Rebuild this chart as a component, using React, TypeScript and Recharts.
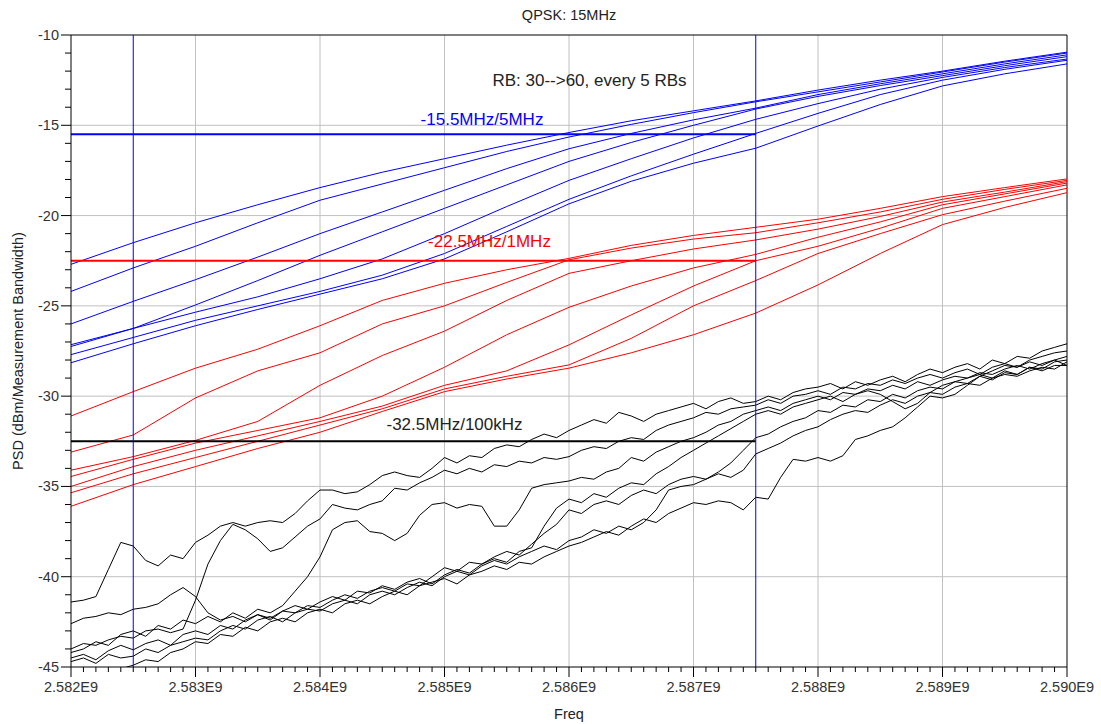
import { LineChart, Line, XAxis, YAxis, CartesianGrid, ReferenceLine } from "recharts"

const FONT = "'Liberation Sans', Arial, sans-serif"

// frequency sweep (Hz): coarse for the 5MHz / 1MHz curves, fine for the 100kHz ones
const F0 = 2582000000
const coarseFreq = Array.from({ length: 17 }, (_, i) => F0 + i * 500000)
const fineFreq = Array.from({ length: 81 }, (_, i) => F0 + i * 100000)

// -15.5MHz / 5MHz measurement, RB 30..60
const blue1 = [-22.7, -21.5, -20.4, -19.4, -18.45, -17.6, -16.85, -16.1, -15.4, -14.75, -14.2, -13.65, -13.05, -12.5, -12.0, -11.45, -10.95]
const blue2 = [-24.2, -22.9, -21.7, -20.4, -19.15, -18.25, -17.35, -16.45, -15.65, -14.95, -14.3, -13.7, -13.15, -12.6, -12.05, -11.5, -11.0]
const blue3 = [-26.0, -24.75, -23.55, -22.3, -21.0, -19.8, -18.6, -17.4, -16.3, -15.45, -14.7, -14.05, -13.3, -12.7, -12.15, -11.6, -11.1]
const blue4 = [-27.15, -26.25, -24.95, -23.6, -22.2, -20.9, -19.6, -18.3, -17.0, -15.95, -15.0, -14.1, -13.4, -12.8, -12.25, -11.7, -11.2]
const blue5 = [-27.25, -26.25, -25.35, -24.5, -23.5, -22.4, -21.0, -19.5, -18.05, -16.85, -15.7, -14.67, -13.8, -13.0, -12.35, -11.8, -11.33]
const blue6 = [-27.7, -26.75, -25.8, -25.0, -24.2, -23.3, -22.1, -20.6, -19.1, -17.8, -16.6, -15.45, -14.34, -13.3, -12.5, -11.9, -11.4]
const blue7 = [-28.15, -27.1, -26.1, -25.2, -24.35, -23.5, -22.4, -20.9, -19.35, -18.1, -17.1, -16.27, -15.04, -13.85, -12.82, -12.15, -11.6]

// -22.5MHz / 1MHz measurement
const red1 = [-31.1, -29.75, -28.45, -27.4, -26.1, -24.7, -23.75, -23.0, -22.37, -21.65, -21.1, -20.65, -20.2, -19.6, -18.95, -18.45, -17.97]
const red2 = [-33.1, -32.15, -30.1, -28.6, -27.6, -26.0, -25.0, -23.7, -22.45, -21.8, -21.3, -20.95, -20.4, -19.8, -19.1, -18.55, -18.05]
const red3 = [-34.1, -33.35, -32.45, -31.4, -29.4, -27.75, -26.4, -24.7, -23.2, -22.5, -21.85, -21.35, -20.75, -20.05, -19.25, -18.7, -18.12]
const red4 = [-34.45, -33.5, -32.6, -31.9, -31.2, -30.0, -28.4, -26.6, -25.08, -23.9, -22.9, -22.15, -21.2, -20.35, -19.4, -18.8, -18.2]
const red5 = [-35.0, -33.9, -33.0, -32.2, -31.4, -30.55, -29.4, -28.6, -27.16, -25.5, -23.9, -22.5, -21.7, -20.7, -19.6, -18.95, -18.3]
const red6 = [-35.35, -34.3, -33.4, -32.5, -31.6, -30.7, -29.6, -28.9, -28.27, -26.8, -25.0, -23.6, -22.1, -21.0, -19.95, -19.2, -18.49]
const red7 = [-36.1, -34.9, -33.9, -32.9, -32.0, -30.85, -29.75, -29.05, -28.45, -27.6, -26.6, -25.4, -23.84, -22.1, -20.5, -19.55, -18.73]

// -32.5MHz / 100kHz measurement (noisy)
const black1 = [
  -41.4, -41.3, -41.1, -39.6, -38.1, -38.3, -39.1, -39.4, -38.8, -39.0,
  -38.1, -37.7, -37.2, -37.0, -37.2, -37.0, -36.9, -37.0, -36.5, -35.8,
  -35.2, -35.2, -35.4, -35.3, -34.9, -34.4, -34.2, -34.4, -34.5, -34.0,
  -33.4, -33.7, -33.3, -33.4, -32.9, -32.7, -32.8, -32.4, -32.1, -32.3,
  -31.9, -31.6, -31.3, -31.5, -30.9, -31.1, -31.4, -31.0, -30.8, -30.6,
  -30.4, -30.7, -30.3, -30.1, -30.4, -30.3, -30.0, -30.2, -29.8, -29.6,
  -29.5, -29.3, -29.6, -29.2, -29.4, -29.1, -28.9, -29.2, -28.8, -28.5,
  -28.7, -28.4, -28.2, -28.5, -28.0, -28.2, -27.8, -27.9, -27.5, -27.3,
  -27.1,
]
const black2 = [
  -42.6, -42.3, -42.2, -42.0, -42.1, -41.8, -41.7, -41.5, -41.0, -40.6,
  -41.1, -42.0, -42.4, -42.2, -42.5, -42.1, -42.3, -41.9, -42.0, -41.6,
  -41.7, -41.3, -41.0, -41.2, -40.8, -40.6, -40.8, -40.4, -40.5, -40.0,
  -39.5, -39.7, -39.2, -39.3, -38.9, -38.6, -38.8, -38.2, -37.6, -37.1,
  -36.3, -36.5, -36.0, -35.8, -36.0, -35.5, -35.2, -35.4, -34.9, -34.6,
  -34.45, -34.6, -34.2, -33.7, -33.0, -32.3, -32.1, -31.7, -31.4, -31.2,
  -30.8, -30.9, -30.5, -30.6, -30.2, -30.3, -29.9, -30.1, -29.7, -29.5,
  -29.6, -29.2, -29.3, -28.9, -29.1, -28.7, -28.8, -28.4, -28.6, -28.3,
  -28.3,
]
const black3 = [
  -44.0, -43.7, -43.8, -43.5, -43.3, -43.4, -43.0, -42.9, -43.1, -42.9,
  -41.3, -39.3, -38.0, -37.1, -37.4, -37.9, -38.6, -38.4, -37.8, -37.2,
  -36.8, -36.0, -36.2, -36.3, -36.0, -35.8, -35.1, -35.2, -34.8, -34.5,
  -34.1, -34.3, -34.0, -34.2, -33.8, -33.9, -33.6, -33.7, -33.4, -33.5,
  -33.35, -33.0, -32.8, -32.9, -32.5, -32.3, -32.4, -31.9, -31.6, -31.4,
  -31.2, -30.9, -31.0, -30.7, -30.6, -30.5, -30.2, -30.4, -30.0, -29.9,
  -29.7, -29.9, -29.5, -29.6, -29.3, -29.4, -29.1, -29.3, -29.0, -28.8,
  -29.0, -28.7, -28.5, -28.8, -28.4, -28.2, -28.4, -28.0, -27.8, -27.6,
  -27.5,
]
const black4 = [
  -44.2, -44.0, -43.6, -43.8, -43.2, -43.0, -43.3, -42.7, -42.9, -42.4,
  -42.6, -42.2, -42.5, -42.0, -42.3, -41.8, -42.0, -41.6, -40.8, -40.0,
  -38.9, -37.4, -37.0, -36.9, -37.5, -37.6, -38.0, -37.6, -36.6, -36.0,
  -35.9, -36.2, -36.0, -36.1, -37.2, -37.2, -36.3, -35.1, -34.9, -34.8,
  -34.7, -34.5, -34.6, -34.2, -34.0, -33.4, -33.6, -33.1, -32.8, -32.5,
  -32.3, -32.0, -31.6, -31.4, -31.0, -30.8, -30.6, -30.8, -30.4, -30.2,
  -30.0, -30.2, -29.8, -29.9, -29.6, -29.7, -29.4, -29.6, -29.2, -29.4,
  -29.1, -28.9, -29.0, -28.7, -28.8, -28.5, -28.3, -28.5, -28.2, -28.0,
  -27.8,
]
const black5 = [
  -44.5, -44.3, -44.6, -44.1, -43.8, -44.05, -43.7, -43.5, -43.8, -43.2,
  -43.0, -43.2, -42.7, -42.9, -42.4, -42.1, -42.4, -41.9, -41.6, -41.8,
  -41.4, -41.1, -41.3, -40.8, -40.9, -40.5, -40.7, -40.3, -40.1, -40.4,
  -39.9, -39.6, -39.8, -39.3, -39.0, -39.2, -38.6, -38.4, -37.2, -36.2,
  -35.7, -35.9, -35.4, -35.6, -35.1, -34.8, -34.9, -34.3, -33.9, -33.4,
  -33.0, -32.6, -32.2, -31.8, -31.4, -31.0, -30.8, -31.0, -30.6, -30.4,
  -30.2, -30.0, -30.3, -29.9, -29.7, -29.9, -30.3, -30.7, -30.4, -29.8,
  -29.4, -29.2, -29.0, -28.8, -29.0, -28.6, -28.8, -28.4, -28.5, -28.1,
  -28.0,
]
const black6 = [
  -44.7, -44.5, -44.8, -44.3, -44.5, -44.4, -44.0, -44.2, -43.8, -43.6,
  -43.4, -43.5, -43.0, -42.7, -42.9, -42.4, -42.2, -42.5, -42.0, -41.8,
  -41.9, -41.5, -41.3, -41.5, -41.0, -40.8, -41.0, -40.6, -40.3, -40.5,
  -40.0, -39.7, -39.9, -39.4, -39.1, -39.3, -38.9, -38.6, -38.3, -38.5,
  -38.0, -37.8, -37.4, -37.6, -37.2, -37.4, -37.0, -36.3, -35.2, -35.0,
  -34.9, -34.6, -34.3, -34.5, -34.1, -33.2, -32.9, -32.6, -32.2, -31.9,
  -31.7, -31.3, -31.0, -30.8, -30.9, -30.5, -30.2, -30.4, -30.0, -29.8,
  -29.9, -29.5, -29.3, -29.4, -29.0, -28.8, -28.9, -28.6, -28.4, -28.5,
  -28.1,
]
const black7 = [
  -46.0, -45.8, -45.5, -45.6, -45.1, -44.9, -44.6, -44.7, -44.2, -44.0,
  -43.6, -43.7, -43.2, -43.3, -42.8, -43.0, -42.5, -42.3, -42.5, -42.0,
  -41.8, -42.0, -41.5, -41.3, -41.5, -41.1, -40.8, -41.0, -40.5, -40.3,
  -40.1, -40.4, -39.9, -39.7, -39.4, -39.6, -39.2, -39.3, -38.9, -38.6,
  -38.3, -38.1, -37.8, -37.5, -37.7, -37.2, -36.8, -37.0, -36.5, -36.2,
  -35.9, -36.0, -35.8, -35.9, -36.3, -35.6, -35.7, -34.5, -33.5, -33.6,
  -33.4, -33.6, -33.3, -32.4, -32.2, -31.9, -31.7, -31.2, -30.6, -30.0,
  -30.1, -29.9, -29.4, -28.9, -28.6, -28.3, -28.4, -28.1, -28.3, -28.0,
  -28.3,
]

// limit markers
const markerStart = 2582000000
const markerEnd = 2587500000
const markerLeft = 2582500000
const limitBlue = -15.5
const limitRed = -22.5
const limitBlack = -32.5

// axes
const xDomain = [2582000000, 2590000000]
const yDomain = [-45, -10]
const xMajor = [2582000000, 2583000000, 2584000000, 2585000000, 2586000000, 2587000000, 2588000000, 2589000000, 2590000000]
const xLabels = ["2.582E9", "2.583E9", "2.584E9", "2.585E9", "2.586E9", "2.587E9", "2.588E9", "2.589E9", "2.590E9"]
const xMinor = fineFreq
const yMajor = [-45, -40, -35, -30, -25, -20, -15, -10]
const yLabels = ["-45", "-40", "-35", "-30", "-25", "-20", "-15", "-10"]
const yMinor = Array.from({ length: 36 }, (_, i) => -45 + i)

const rows = (freqs: number[], vals: number[]) => freqs.map((f, i) => ({ f, v: vals[i] }))

const blueSeries = [blue1, blue2, blue3, blue4, blue5, blue6, blue7]
const redSeries = [red1, red2, red3, red4, red5, red6, red7]
const blackSeries = [black1, black2, black3, black4, black5, black6, black7]

function XTick(props: any) {
  const { x, y, payload } = props
  const idx = xMajor.indexOf(payload.value)
  return (
    <g>
      <path d={`M${x},${y}V${y + (idx >= 0 ? 10 : 5)}`} stroke="#000" strokeWidth={1} fill="none" />
      {idx >= 0 && (
        <text x={x} y={y + 25} textAnchor="middle" fontSize={14.5} fill="#333" fontFamily={FONT}>
          {xLabels[idx]}
        </text>
      )}
    </g>
  )
}

function YTick(props: any) {
  const { x, y, payload } = props
  const idx = yMajor.indexOf(payload.value)
  return (
    <g>
      <path d={`M${x},${y}H${x - (idx >= 0 ? 10 : 6)}`} stroke="#000" strokeWidth={1} fill="none" />
      {idx >= 0 && (
        <text x={x - 12} y={y + 5} textAnchor="end" fontSize={14.5} fill="#333" fontFamily={FONT}>
          {yLabels[idx]}
        </text>
      )}
    </g>
  )
}

export default function App() {
  return (
    <div style={{ position: "absolute", left: 0, top: 0, width: 1101, height: 724, background: "#fff" }}>
      <LineChart width={1101} height={724} margin={{ top: 35, right: 34, bottom: 27, left: 11 }}>
        <CartesianGrid
          stroke="#c0c0c0"
          horizontalValues={[-40, -35, -30, -25, -20, -15]}
          verticalValues={xMajor.slice(1, -1)}
        />
        <XAxis
          dataKey="f"
          type="number"
          domain={xDomain}
          ticks={xMinor}
          interval={0}
          tick={<XTick />}
          tickLine={false}
          tickSize={0}
          tickMargin={0}
          axisLine={{ stroke: "#000" }}
          height={30}
          allowDataOverflow
        />
        <YAxis
          type="number"
          domain={yDomain}
          ticks={yMinor}
          interval={0}
          tick={<YTick />}
          tickLine={false}
          tickSize={0}
          tickMargin={0}
          axisLine={{ stroke: "#000" }}
          width={60}
          allowDataOverflow
        />
        <ReferenceLine y={-10} stroke="#000" />
        <ReferenceLine x={2590000000} stroke="#000" />

        {blackSeries.map((s, i) => (
          <Line key={"k" + i} data={rows(fineFreq, s)} dataKey="v" stroke="#000" strokeWidth={1} dot={false} isAnimationActive={false} />
        ))}
        {redSeries.map((s, i) => (
          <Line key={"r" + i} data={rows(coarseFreq, s)} dataKey="v" stroke="#ff0000" strokeWidth={1} dot={false} isAnimationActive={false} />
        ))}
        {blueSeries.map((s, i) => (
          <Line key={"b" + i} data={rows(coarseFreq, s)} dataKey="v" stroke="#0000ff" strokeWidth={1} dot={false} isAnimationActive={false} />
        ))}

        <Line data={[{ f: markerStart, v: limitBlue }, { f: markerEnd, v: limitBlue }]} dataKey="v" stroke="#0000ff" strokeWidth={2} dot={false} isAnimationActive={false} />
        <Line data={[{ f: markerStart, v: limitRed }, { f: markerEnd, v: limitRed }]} dataKey="v" stroke="#ff0000" strokeWidth={2} dot={false} isAnimationActive={false} />
        <Line data={[{ f: markerStart, v: limitBlack }, { f: markerEnd, v: limitBlack }]} dataKey="v" stroke="#000" strokeWidth={2} dot={false} isAnimationActive={false} />
        <Line data={[{ f: markerLeft, v: yDomain[0] }, { f: markerLeft, v: yDomain[1] }]} dataKey="v" stroke="#0000ff" strokeWidth={1} dot={false} isAnimationActive={false} />
        <Line data={[{ f: markerEnd, v: yDomain[0] }, { f: markerEnd, v: yDomain[1] }]} dataKey="v" stroke="#0000ff" strokeWidth={1} dot={false} isAnimationActive={false} />
      </LineChart>

      <svg width={1101} height={724} style={{ position: "absolute", left: 0, top: 0, pointerEvents: "none" }} fontFamily={FONT}>
        <text x={569} y={19.5} textAnchor="middle" fontSize={14.5} fill="#222">QPSK: 15MHz</text>
        <text x={589.5} y={85.5} textAnchor="middle" fontSize={17} fill="#222">RB: 30--&gt;60, every 5 RBs</text>
        <text x={482} y={125} textAnchor="middle" fontSize={17} fill="#0000ff">-15.5MHz/5MHz</text>
        <text x={489.5} y={246.5} textAnchor="middle" fontSize={17} fill="#ff0000">-22.5MHz/1MHz</text>
        <text x={454.5} y={430} textAnchor="middle" fontSize={17} fill="#222">-32.5MHz/100kHz</text>
        <text x={569} y={719} textAnchor="middle" fontSize={14.5} fill="#222">Freq</text>
        <text transform="translate(23,351) rotate(-90)" textAnchor="middle" fontSize={14.5} fill="#222">
          PSD (dBm/Measurement Bandwidth)
        </text>
      </svg>
    </div>
  )
}
